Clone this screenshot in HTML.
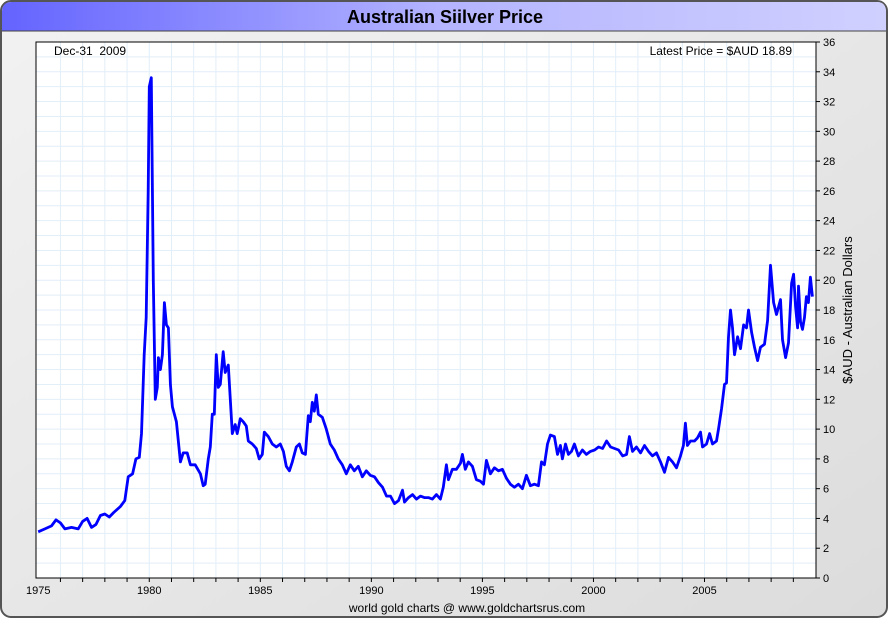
<!DOCTYPE html>
<html><head><meta charset="utf-8"><style>
body{margin:0;background:#fff;font-family:"Liberation Sans",sans-serif;}
</style></head><body>
<svg id="chart" width="890" height="620" xmlns="http://www.w3.org/2000/svg" font-family="Liberation Sans, sans-serif">
<defs>
<linearGradient id="tg" x1="0" x2="1" y1="0" y2="0"><stop offset="0" stop-color="#6464ff"/><stop offset="0.5" stop-color="#b4b4ff"/><stop offset="1" stop-color="#d0d0ff"/></linearGradient>
<linearGradient id="bg" x1="0" x2="1" y1="0" y2="1"><stop offset="0" stop-color="#f2f2f2"/><stop offset="1" stop-color="#dcdcdc"/></linearGradient>
</defs>
<rect x="1" y="1" width="886" height="616" rx="10" fill="url(#bg)" stroke="#555" stroke-width="2"/>
<path d="M2,31 V12 Q2,2 12,2 H877 Q886,2 886,12 V31 Z" fill="url(#tg)"/>
<line x1="2" y1="31" x2="886" y2="31" stroke="#444" stroke-width="1"/>
<text x="445" y="23" text-anchor="middle" font-size="18" font-weight="bold" fill="#000">Australian Siilver Price</text>
<rect x="36" y="42" width="780" height="536" fill="#fff"/>
<g id="grid"></g>
<polyline id="line" fill="none" stroke="#0000ff" stroke-width="2.8" stroke-linejoin="round"/>
<rect x="36" y="42" width="780" height="536" fill="none" stroke="#000" stroke-width="1"/>
<g id="axes"></g>
<text x="54" y="55" font-size="12">Dec-31 &#160;2009</text>
<text x="792" y="55" font-size="12" text-anchor="end">Latest Price = $AUD 18.89</text>
<text transform="translate(852,310) rotate(-90)" text-anchor="middle" font-size="13">$AUD - Australian Dollars</text>
<text x="467" y="612" text-anchor="middle" font-size="12">world gold charts @ www.goldchartsrus.com</text>
</svg>
<script>
const years=[1975.0,1975.3,1975.6,1975.8,1976.0,1976.2,1976.5,1976.8,1977.0,1977.2,1977.4,1977.6,1977.8,1978.0,1978.2,1978.4,1978.7,1978.9,1979.05,1979.25,1979.4,1979.55,1979.65,1979.77,1979.86,1979.95,1980.0,1980.09,1980.18,1980.27,1980.36,1980.41,1980.50,1980.59,1980.68,1980.77,1980.86,1980.95,1981.04,1981.22,1981.40,1981.53,1981.71,1981.85,1982.07,1982.30,1982.43,1982.52,1982.66,1982.75,1982.84,1982.93,1983.02,1983.11,1983.20,1983.33,1983.42,1983.56,1983.65,1983.74,1983.87,1983.96,1984.10,1984.23,1984.37,1984.46,1984.64,1984.82,1984.95,1985.09,1985.18,1985.36,1985.54,1985.72,1985.90,1986.04,1986.17,1986.31,1986.44,1986.62,1986.76,1986.89,1987.03,1987.16,1987.25,1987.34,1987.43,1987.52,1987.61,1987.79,1987.97,1988.15,1988.33,1988.51,1988.69,1988.87,1989.05,1989.23,1989.41,1989.59,1989.77,1989.95,1990.14,1990.32,1990.50,1990.68,1990.86,1991.04,1991.22,1991.40,1991.49,1991.67,1991.85,1992.03,1992.21,1992.39,1992.57,1992.75,1992.93,1993.11,1993.24,1993.38,1993.47,1993.65,1993.83,1994.01,1994.10,1994.23,1994.37,1994.55,1994.73,1994.91,1995.05,1995.18,1995.36,1995.54,1995.72,1995.90,1996.08,1996.26,1996.44,1996.62,1996.80,1996.98,1997.16,1997.34,1997.52,1997.66,1997.79,1997.93,1998.06,1998.24,1998.38,1998.51,1998.60,1998.74,1998.87,1999.01,1999.14,1999.32,1999.50,1999.68,1999.86,2000.05,2000.23,2000.41,2000.59,2000.77,2000.95,2001.13,2001.31,2001.49,2001.62,2001.76,2001.94,2002.12,2002.30,2002.48,2002.66,2002.84,2003.02,2003.20,2003.38,2003.56,2003.74,2003.92,2004.05,2004.14,2004.23,2004.37,2004.55,2004.68,2004.82,2004.91,2005.09,2005.23,2005.36,2005.54,2005.63,2005.77,2005.90,2005.99,2006.08,2006.17,2006.26,2006.35,2006.49,2006.62,2006.76,2006.89,2006.98,2007.12,2007.25,2007.39,2007.52,2007.70,2007.84,2007.97,2008.11,2008.24,2008.42,2008.51,2008.65,2008.78,2008.92,2009.01,2009.10,2009.19,2009.23,2009.32,2009.41,2009.50,2009.59,2009.68,2009.77,2009.86];
const prices=[3.1,3.3,3.5,3.9,3.7,3.3,3.4,3.3,3.8,4.0,3.4,3.6,4.2,4.3,4.1,4.4,4.8,5.2,6.8,7.0,8.0,8.1,9.7,15,17.5,26,33,33.6,20,12,12.8,14.8,14,15,18.5,17,16.8,13,11.5,10.5,7.8,8.4,8.4,7.6,7.6,7,6.2,6.3,8,8.8,11,11,15,12.8,13,15.2,13.8,14.3,12,9.7,10.3,9.7,10.7,10.5,10.2,9.2,9,8.7,8,8.3,9.8,9.5,9,8.8,9,8.5,7.5,7.2,7.8,8.8,9,8.4,8.3,10.9,10.5,11.8,11.2,12.3,11,10.8,10,9,8.6,8,7.6,7,7.6,7.2,7.5,6.8,7.2,6.9,6.8,6.4,6.1,5.5,5.5,5,5.2,5.9,5.1,5.4,5.6,5.3,5.5,5.4,5.4,5.3,5.6,5.3,6.1,7.6,6.6,7.3,7.3,7.7,8.3,7.3,7.8,7.5,6.6,6.5,6.3,7.9,7,7.4,7.2,7.3,6.7,6.3,6.1,6.3,6,6.9,6.2,6.3,6.2,7.8,7.6,9,9.6,9.5,8.3,8.9,8,9,8.3,8.5,9,8.2,8.6,8.3,8.5,8.6,8.8,8.7,9.2,8.8,8.7,8.6,8.2,8.3,9.5,8.5,8.8,8.4,8.9,8.5,8.2,8.4,7.8,7.1,8.1,7.8,7.4,8.2,8.9,10.4,8.9,9.2,9.2,9.4,9.8,8.8,9,9.7,9,9.2,10,11.4,13,13.1,16.2,18,16.8,15,16.2,15.4,17,16.8,18,16.5,15.5,14.6,15.5,15.7,17.3,21,18.5,17.7,18.7,16,14.8,15.8,19.8,20.4,18.2,16.8,19.6,17.2,16.7,17.5,18.9,18.5,20.2,18.9];
const yTicks=[0,2,4,6,8,10,12,14,16,18,20,22,24,26,28,30,32,34,36];
const xLabels=[1975,1980,1985,1990,1995,2000,2005];
const L=36,R=816,T=42,B=578,X0=1974.9,X1=2010.02,YMAX=36;
const xs=v=>L+(v-X0)/(X1-X0)*(R-L);
const ys=v=>B-v/YMAX*(B-T);
const NS="http://www.w3.org/2000/svg";
const grid=document.getElementById('grid'),axes=document.getElementById('axes');
function mk(tag,attrs,parent){const e=document.createElementNS(NS,tag);for(const k in attrs)e.setAttribute(k,attrs[k]);parent.appendChild(e);return e;}
for(let y=0;y<=YMAX;y++){const g=mk('line',{x1:L,x2:R,y1:ys(y),y2:ys(y),stroke:'#e2eef8','stroke-width':1},grid);

}
for(let yr=1976;yr<=2009;yr++){const g=mk('line',{x1:xs(yr),x2:xs(yr),y1:T,y2:B,stroke:'#e2eef8','stroke-width':1},grid);


const t=mk('line',{x1:xs(yr),x2:xs(yr),y1:B,y2:B+4,stroke:'#000'},axes);

}
yTicks.forEach(v=>{const t=mk('line',{x1:R,x2:R+4,y1:ys(v),y2:ys(v),stroke:'#000'},axes);


const l=mk('text',{x:R+7,y:ys(v)+4,'font-size':11},axes);l.textContent=v;

});
xLabels.forEach(v=>{const l=mk('text',{x:xs(v),y:594,'font-size':11,'text-anchor':'middle'},axes);l.textContent=v;

});
document.getElementById('line').setAttribute('points',years.map((y,i)=>xs(y).toFixed(1)+','+ys(prices[i]).toFixed(1)).join(' '));
</script>
</body></html>
